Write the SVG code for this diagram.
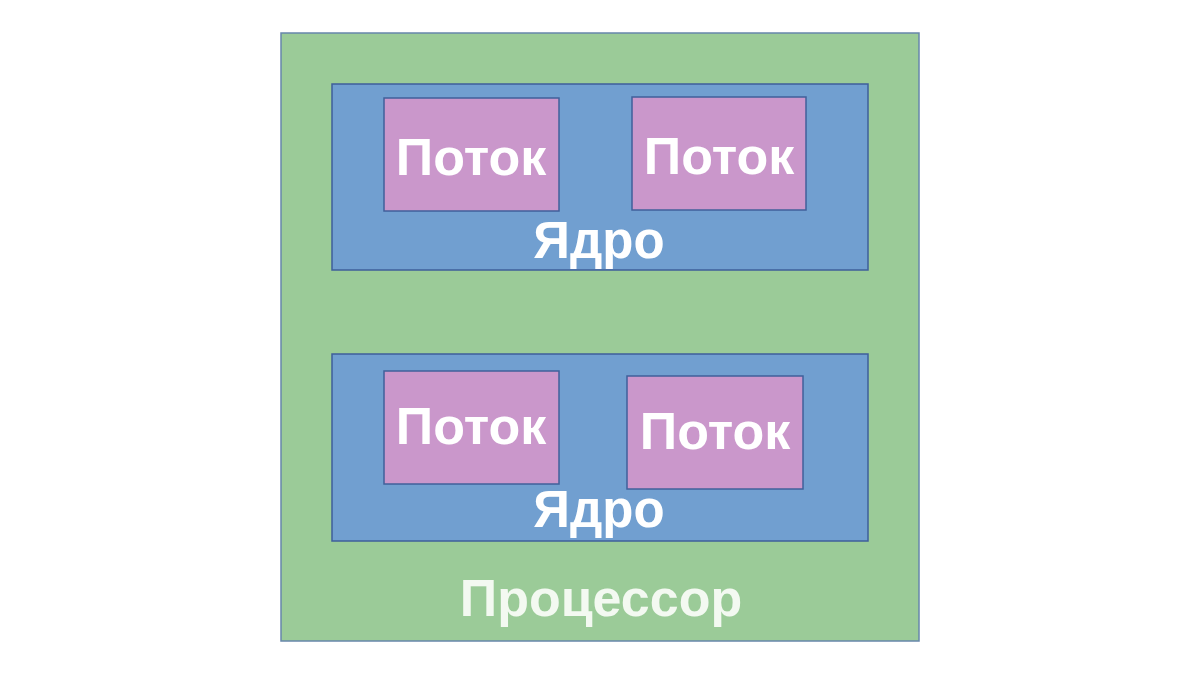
<svg xmlns="http://www.w3.org/2000/svg" width="1200" height="675" viewBox="0 0 1200 675">
<style>
.proc{fill:#9bcb98;stroke:#6787ab;stroke-width:1.5}
.core{fill:#719fd0;stroke:#3f5f9a;stroke-width:1.5}
.thr{fill:#ca97cb;stroke:#40609a;stroke-width:1.5}
text{font-family:"Liberation Sans",Arial,sans-serif;font-weight:bold;fill:#ffffff;text-anchor:middle}
.t{font-size:52px}
.c{font-size:51px}
.p{font-size:52px;fill:#f3f9f1}
</style>
<rect width="1200" height="675" fill="#ffffff"/>
<g id="processor">
<rect class="proc" x="281" y="33" width="638" height="608"/>
<text class="p" x="601" y="616">Процессор</text>
</g>
<g id="core1">
<rect class="core" x="332" y="84" width="536" height="186"/>
<text class="c" x="599" y="258">Ядро</text>
</g>
<g id="thread1">
<rect class="thr" x="384" y="98" width="175" height="113"/>
<text class="t" x="471" y="175">Поток</text>
</g>
<g id="thread2">
<rect class="thr" x="632" y="97" width="174" height="113"/>
<text class="t" x="719" y="174">Поток</text>
</g>
<g id="core2">
<rect class="core" x="332" y="354" width="536" height="187"/>
<text class="c" x="599" y="527">Ядро</text>
</g>
<g id="thread3">
<rect class="thr" x="384" y="371" width="175" height="113"/>
<text class="t" x="471" y="444">Поток</text>
</g>
<g id="thread4">
<rect class="thr" x="627" y="376" width="176" height="113"/>
<text class="t" x="715" y="449">Поток</text>
</g>
<g id="connectors"/>
</svg>
